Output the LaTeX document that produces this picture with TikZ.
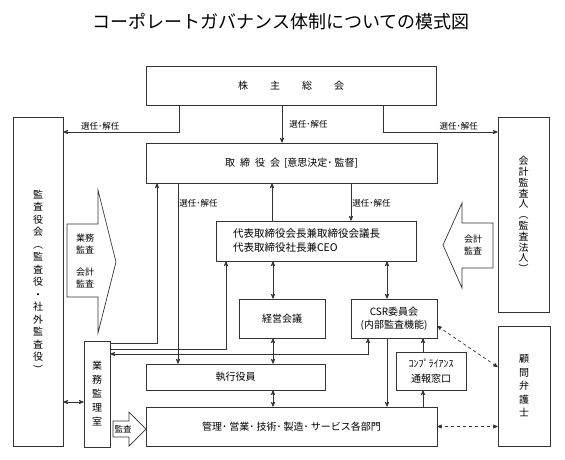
\documentclass[tikz,border=0pt]{standalone}
\usepackage{fontspec}
\setmainfont{Noto Sans CJK JP}
\usetikzlibrary{arrows}

\begin{document}
\begin{tikzpicture}[x=1pt,y=-1pt,>=stealth',line width=0.7pt,
		box/.style={draw=black!80,inner sep=0pt,font=\fontsize{10}{12}\selectfont},
		vbox/.style={box,align=center,font=\fontsize{10}{#1}\selectfont},
		lbl/.style={inner sep=1pt,font=\fontsize{8.5}{10}\selectfont},
		blktext/.style={inner sep=0pt,align=center,font=\fontsize{9}{12.5}\selectfont},
		blk/.style={draw=black!80,fill=white},
		conn/.style={draw=black!80,->},
		twoway/.style={draw=black!80,<->}]
		
		\useasboundingbox (0,0) rectangle (565,459);
		\node[font=\fontsize{18}{20}\selectfont] (title) at (281,22) {コーポレートガバナンス体制についての模式図};

		\node[box,minimum width=290pt,minimum height=39pt] (kabu) at (291,85.5) {株\hspace{22pt}主\hspace{22pt}総\hspace{22pt}会};
		\node[box,minimum width=291pt,minimum height=40pt] (tori) at (291.5,163) {取\hspace{5pt}締\hspace{5pt}役\hspace{5pt}会\hspace{4pt}[意思決定･ 監督]};
		\node[box,minimum width=200pt,minimum height=40pt,text width=166pt,inner xsep=17pt,align=left,
			font=\fontsize{10.5}{14}\selectfont] (rep) at (316,241) {代表取締役会長兼取締役会議長\\代表取締役社長兼CEO};
		\node[box,minimum width=86pt,minimum height=39pt] (keiei) at (282,318.5) {経営会議};
		\node[box,minimum width=86pt,minimum height=39pt,align=center,font=\fontsize{10}{13}\selectfont] (csr) at (394,318.5) {CSR委員会\\(内部監査機能)};
		\node[box,minimum width=70pt,minimum height=38pt,align=center,font=\fontsize{10}{15}\selectfont] (koho) at (431,371) {ｺﾝﾌﾟﾗｲｱﾝｽ\\通報窓口};
		\node[box,minimum width=179pt,minimum height=26pt] (shikko) at (235.5,377) {執行役員};
		\node[box,minimum width=291pt,minimum height=39pt] (kanri) at (291.5,426.5) {管理･ 営業･ 技術･ 製造･ サービス各部門};

		\node[vbox=12.5,minimum width=50pt,minimum height=329pt] (kansa) at (38,281.5) {監\\査\\役\\会\\︵\\監\\査\\役\\・\\社\\外\\監\\査\\役\\︶};
		\node[vbox=10.8,minimum width=51pt,minimum height=195pt] (kaikei) at (523.5,214.5) {会\\計\\監\\査\\人\\︵\\監\\査\\法\\人\\︶};
		\node[vbox=13.5,minimum width=52pt,minimum height=120pt] (bengo) at (524,386) {顧\\問\\弁\\護\\士};
		\node[vbox=14,minimum width=26pt,minimum height=106pt] (gyomu) at (97,394) {業\\務\\監\\理\\室};

		% block arrows
		\draw[blk] (67,224) -- (98,224) -- (98,190) -- (116,262) -- (98,333) -- (98,297) -- (67,297) -- cycle;
		\node[blktext] (gkansa) at (85,244) {業務\\監査};
		\node[blktext] (kkansa) at (85,278) {会計\\監査};
		\draw[blk] (493,223) -- (462,223) -- (462,203) -- (443,245) -- (462,288) -- (462,268) -- (493,268) -- cycle;
		\node[blktext] (kkansa2) at (473,245) {会計\\監査};
		\draw[blk] (113,421) -- (129,421) -- (129,412) -- (146,429) -- (129,446) -- (129,437) -- (113,437) -- cycle;
		\node[blktext,font=\fontsize{8.5}{10}\selectfont] (naibu) at (123,429) {監査};

		\draw[conn] (179,0 |- kabu.south) |- (kansa.east |- 0,132) node[lbl,above,pos=0.84] {選任･解任};
		\draw[conn] (282,0 |- kabu.south) -- (282,0 |- tori.north) node[lbl,right=6pt,pos=0.5] {選任･解任};
		\draw[conn] (383,0 |- kabu.south) |- (kaikei.west |- 0,132) node[lbl,above,pos=0.83] {選任･解任};
		\draw[conn] (178,0 |- tori.south) -- (178,0 |- shikko.north) node[lbl,right,pos=0.11] {選任･解任};
		\draw[conn] (351,0 |- tori.south) -- (351,0 |- rep.north) node[lbl,right,pos=0.53] {選任･解任};
		\draw[conn] (272,0 |- rep.north) -- (272,0 |- tori.south);

		\draw[conn] (gyomu.east |- 0,343) -| (157,0 |- tori.south);
		\draw[conn] (gyomu.east |- 0,349) -| (226,0 |- rep.south);
		\draw[twoway] (368,0 |- csr.south) |- (gyomu.east |- 0,354);

		\draw[twoway] (273,0 |- rep.south) -- (273,0 |- keiei.north);
		\draw[twoway] (273,0 |- keiei.south) -- (273,0 |- shikko.north);
		\draw[twoway] (273,0 |- shikko.south) -- (273,0 |- kanri.north);
		\draw[twoway] (387,0 |- rep.south) -- (387,0 |- csr.north);
		\draw[conn] (387,0 |- csr.south) -- (387,0 |- kanri.north);
		\draw[conn] (423,0 |- koho.north) -- (423,0 |- csr.south);
		\draw[conn] (423,0 |- kanri.north) -- (423,0 |- koho.south);

		\draw[twoway,dashed] (csr.east |- 0,326) -- (bengo.west |- 0,367);
		\draw[twoway,dashed] (kanri.east) -- (bengo.west |- kanri.east);
		\draw[twoway] (kansa.east |- 0,402) -- (gyomu.west |- 0,402);
		\end{tikzpicture}
\end{document}
